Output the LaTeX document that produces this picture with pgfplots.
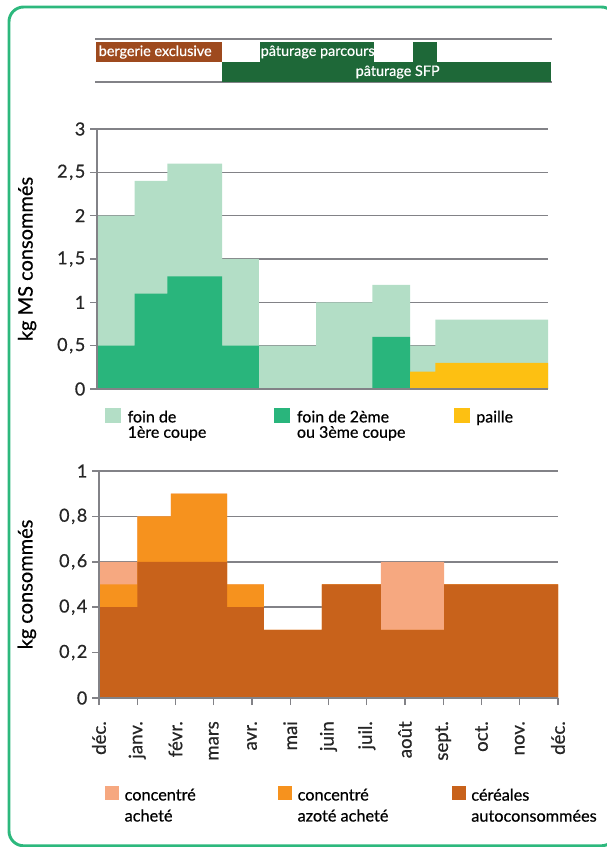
\documentclass[border=0pt]{standalone}
\usepackage{fontspec}
\setmainfont{Lato}[FakeBold=0.6]
\usepackage{pgfplots}
\pgfplotsset{compat=1.18}

\definecolor{cadre}{RGB}{45,184,125}
\definecolor{foinA}{RGB}{179,222,198}
\definecolor{foinB}{RGB}{41,181,124}
\definecolor{paille}{RGB}{253,192,18}
\definecolor{achete}{RGB}{246,168,128}
\definecolor{azote}{RGB}{246,146,30}
\definecolor{cereales}{RGB}{200,98,27}
\definecolor{bergerie}{RGB}{158,74,30}
\definecolor{paturage}{RGB}{30,104,56}
\definecolor{grille}{RGB}{130,130,135}

\newcommand{\dec}[2]{#1\kern1.2pt,\kern1.2pt#2}

\pgfplotsset{
  mois/.style={
    scale only axis, anchor=south west, xmin=0, xmax=12, clip=false,
    axis x line*=bottom, axis y line*=left,
    ymajorgrids, grid style={grille, line width=1.1pt},
    axis line style={grille, line width=1.1pt},
    tick style={grille, line width=1.1pt},
    tick align=outside, major tick length=5.25pt,
    /pgf/number format/assume math mode=true,
    tick label style={text=black!85},
    y tick label style={font=\fontsize{13.5}{15}\selectfont},
    label style={font=\fontsize{15}{17}\selectfont},
    legend columns=3,
    legend style={draw=none, fill=none, inner sep=0pt, outer sep=0pt,
      column sep=0pt, row sep=0pt, anchor=north west,
      cells={anchor=north west, inner sep=0pt}},
  }
}

\begin{document}
\begin{tikzpicture}
\useasboundingbox (0,0) rectangle (455.25pt,635.25pt);
\draw[cadre, line width=2.2pt, rounded corners=11pt] (6.75pt,0.9pt) rectangle (462pt,630pt);

% calendrier
\begin{axis}[scale only axis, anchor=south west, at={(72.75pt,573.75pt)},
  width=338.25pt, height=32.25pt, xmin=0, xmax=12, ymin=0, ymax=43,
  axis lines=none, clip=false]
\draw[grille, line width=1.5pt] (axis cs:-0.05,42.5) -- (axis cs:12.1,42.5);
\draw[grille, line width=1.5pt] (axis cs:-0.05,0) -- (axis cs:12.1,0);
\addplot[fill=bergerie, draw=none] coordinates {(-0.03,20) (3.33,20) (3.33,40) (-0.03,40)} -- cycle;
\addplot[fill=paturage, draw=none] coordinates {(4.33,20) (7.36,20) (7.36,40) (4.33,40)} -- cycle;
\addplot[fill=paturage, draw=none] coordinates {(8.4,20) (9.04,20) (9.04,40) (8.4,40)} -- cycle;
\addplot[fill=paturage, draw=none] coordinates {(3.33,0) (12.07,0) (12.07,20) (3.33,20)} -- cycle;
\node[white, anchor=west, inner sep=0pt, font=\fontsize{10.8}{13}\selectfont] at (axis cs:0.04,30) {bergerie exclusive};
\node[white, anchor=west, inner sep=0pt, font=\fontsize{10.8}{13}\selectfont] at (axis cs:4.35,30) {pâturage parcours};
\node[white, anchor=center, inner sep=0pt, font=\fontsize{10.8}{13}\selectfont] at (axis cs:8,10) {pâturage SFP};
\end{axis}

% fourrages
\begin{axis}[mois, width=338.25pt, height=195pt, at={(72.75pt,343.5pt)},
  ymin=0, ymax=3, ytick={0,0.5,1,1.5,2,2.5,3},
  yticklabels={0,\dec{0}{5},1,\dec{1}{5},2,\dec{2}{5},3},
  xtick=\empty,
  ylabel={kg MS consommés},
  ylabel style={at={(axis description cs:-0.155,0.5)}, anchor=center},
  legend style={at={(axis description cs:0.0177,-0.073)},
    font=\fontsize{12}{11.5}\selectfont},
  legend image code/.code={\fill[#1] (0pt,-11.5pt) rectangle (12pt,0pt); \path (15pt,0pt);},
]
\addplot[const plot, fill=foinA, draw=none] coordinates {(0,2) (1,2.4) (1.87,2.6) (3.33,1.5) (4.31,0.5) (5.83,1) (7.33,1.2) (8.33,0.5) (9,0.8) (12,0.8)} \closedcycle;
\addlegendentry{\parbox[t]{108pt}{foin de\\1ère coupe}}
\addplot[const plot, fill=foinB, draw=none] coordinates {(0,0.5) (1,1.1) (1.87,1.3) (3.33,0.5) (4.31,0) (7.33,0.6) (8.33,0) (12,0)} \closedcycle;
\addlegendentry{\parbox[t]{115.5pt}{foin de 2ème\\ou 3ème coupe}}
\addplot[const plot, fill=paille, draw=none] coordinates {(0,0) (8.33,0.2) (9,0.3) (12,0.3)} \closedcycle;
\addlegendentry{\parbox[t]{60pt}{paille}}
\draw[grille, line width=1.1pt] (axis cs:0,3) -- (axis cs:0,0) -- (axis cs:12,0);
\end{axis}

% concentrés
\begin{axis}[mois, width=344.25pt, height=170.25pt, at={(74.25pt,111.75pt)},
  ymin=0, ymax=1, ytick={0,0.2,0.4,0.6,0.8,1},
  yticklabels={0,\dec{0}{2},\dec{0}{4},\dec{0}{6},\dec{0}{8},1},
  xtick={0,...,12},
  xticklabels={déc.,janv.,févr.,mars,avr.,mai,juin,juil.,août,sept.,oct.,nov.,déc.},
  x tick label style={rotate=90, anchor=east, inner xsep=12pt,
    font=\fontsize{14}{16}\selectfont},
  ylabel={kg consommés},
  ylabel style={at={(axis description cs:-0.157,0.5)}, anchor=center},
  legend style={at={(axis description cs:0.0131,-0.3877)},
    font=\fontsize{12.2}{15.75}\selectfont},
  legend image code/.code={\fill[#1] (0pt,-10.5pt) rectangle (10.5pt,0pt); \path (12.75pt,0pt);},
]
\addplot[const plot, fill=achete, draw=none] coordinates {(0,0.6) (1,0.8) (1.88,0.9) (3.35,0.5) (4.31,0.3) (5.83,0.5) (7.37,0.6) (9.02,0.5) (12,0.5)} \closedcycle;
\addlegendentry{\parbox[t]{113pt}{concentré\\acheté}}
\addplot[const plot, fill=azote, draw=none] coordinates {(0,0.5) (1,0.8) (1.88,0.9) (3.35,0.5) (4.31,0.3) (5.83,0.5) (7.37,0.3) (9.02,0.5) (12,0.5)} \closedcycle;
\addlegendentry{\parbox[t]{113.5pt}{concentré\\azoté acheté}}
\addplot[const plot, fill=cereales, draw=none] coordinates {(0,0.4) (1,0.6) (3.35,0.4) (4.31,0.3) (5.83,0.5) (7.37,0.3) (9.02,0.5) (12,0.5)} \closedcycle;
\addlegendentry{\parbox[t]{100pt}{céréales\\autoconsommées}}
\draw[grille, line width=1.1pt] (axis cs:0,1) -- (axis cs:0,0) -- (axis cs:12,0);
\end{axis}
\end{tikzpicture}
\end{document}
